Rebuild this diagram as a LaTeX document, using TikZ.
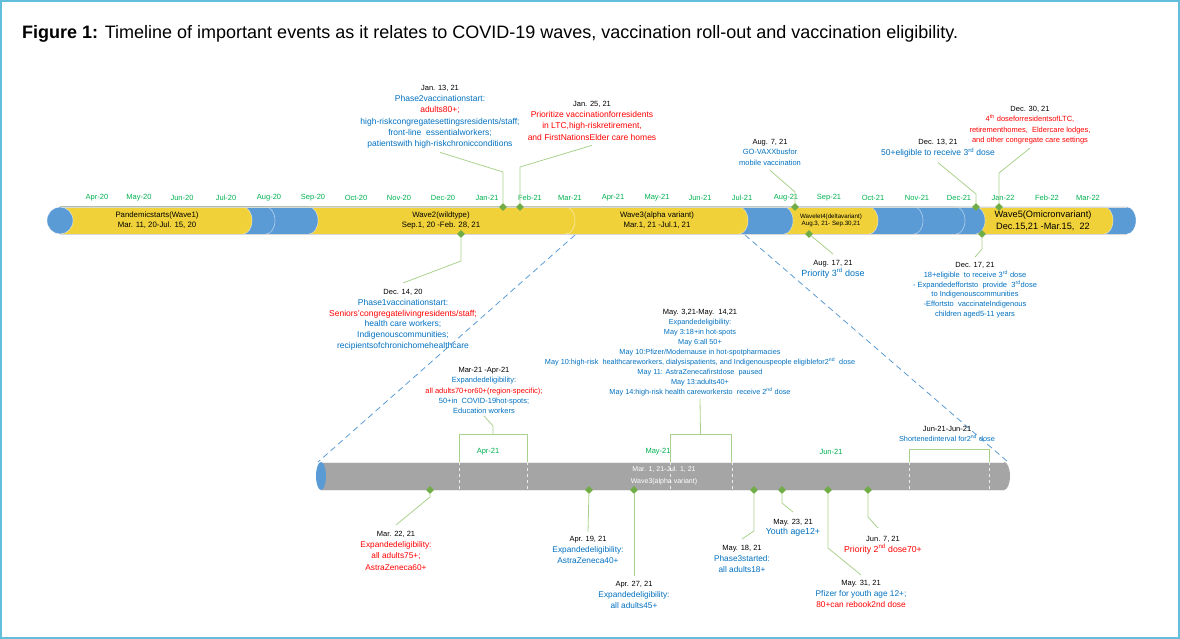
\documentclass[tikz,border=0pt]{standalone}
\usepackage{fontspec}
\setmainfont{Liberation Sans}
\usetikzlibrary{shapes.geometric, calc}
\definecolor{tblue}{RGB}{0,112,192}
\definecolor{tred}{RGB}{255,0,0}
\definecolor{mgreen}{RGB}{0,176,80}
\definecolor{dgreen}{RGB}{112,173,71}
\definecolor{lgreen}{RGB}{169,209,142}
\definecolor{wyel}{RGB}{240,209,58}
\definecolor{bblue}{RGB}{91,155,213}
\definecolor{gbar}{RGB}{165,165,165}
\definecolor{framec}{RGB}{98,190,218}

\newcommand{\dt}[1]{{\fontsize{7.5}{10}\selectfont\textcolor{black}{#1}}}
\newcommand{\rd}[1]{\textcolor{tred}{#1}}

\begin{document}
\begin{tikzpicture}[x=1pt, y=1pt,
    evt/.style={align=center, inner sep=0pt, anchor=north, text=tblue,
        font=\fontsize{8.5}{11.2}\selectfont},
    evtsmall/.style={evt, font=\fontsize{7.5}{10.3}\selectfont},
    evttiny/.style={evt, font=\fontsize{7.3}{10}\selectfont},
    month/.style={font=\fontsize{7.5}{9}\selectfont, text=mgreen, inner sep=0pt},
    wave/.style={align=center, inner sep=0pt, font=\fontsize{7.8}{10}\selectfont},
    dia/.style={diamond, fill=dgreen, inner sep=0pt, minimum size=8pt},
    conn/.style={draw=lgreen, line width=0.8pt},
    zline/.style={draw=bblue, dash pattern=on 6pt off 4pt, line width=0.8pt},
    segedge/.style={draw=white, opacity=0.55, line width=0.6pt}
]
\useasboundingbox (0,0) rectangle (1180,-639);
\draw[framec, line width=1.2pt] (1,-1) rectangle (1179,-638);

% Title
\node[anchor=west, inner sep=0pt, font=\fontsize{18}{21}\selectfont] (title) at (22,-34)
    {\textbf{Figure 1:} Timeline of important events as it relates to COVID-19 waves, vaccination roll-out and vaccination eligibility.};

% Top timeline (segments drawn right to left)
\foreach \t/\c in {1136/bblue, 1113/wyel, 985/bblue, 965/bblue, 923/bblue, 878/wyel,
                   793/bblue, 748/wyel, 575/wyel, 318/bblue, 275/bblue, 252/wyel} {
    \fill[\c] (60,-207) -- (\t-9,-207) arc[start angle=90, end angle=-90, x radius=9, y radius=13.5]
        -- (60,-234) -- cycle;
    \draw[segedge] (\t-9,-207) arc[start angle=90, end angle=-90, x radius=9, y radius=13.5];
}
\draw[gray!30, line width=0.5pt] (60,-207) -- (1127,-207) (60,-234) -- (1127,-234);
\fill[bblue] (60,-220.5) ellipse[x radius=13, y radius=13.5];
\draw[white, opacity=0.6, line width=0.6pt] (60,-220.5) ellipse[x radius=13, y radius=13.5];

% Month labels
\foreach \x/\m [count=\i] in {97/Apr-20, 139/May-20, 182/Jun-20, 226/Jul-20, 269/Aug-20,
        313/Sep-20, 356/Oct-20, 399/Nov-20, 443/Dec-20, 487/Jan-21, 530/Feb-21, 570/Mar-21,
        613/Apr-21, 657/May-21, 700/Jun-21, 742/Jul-21, 786/Aug-21, 829/Sep-21, 873/Oct-21,
        917/Nov-21, 959/Dec-21, 1003/Jan-22, 1047/Feb-22, 1088/Mar-22}
    \node[month] (mon\i) at (\x,-198) {\m};

% Wave labels
\node[wave] (w1) at (157,-220.5) {Pandemicstarts(Wave1)\\Mar. 11, 20-Jul. 15, 20};
\node[wave] (w2) at (441,-220.5) {Wave2(wildtype)\\Sep.1, 20 -Feb. 28, 21};
\node[wave] (w3) at (657,-220.5) {Wave3(alpha variant)\\Mar.1, 21 -Jul.1, 21};
\node[wave, font=\fontsize{6.2}{7.5}\selectfont] (w4) at (831,-220.5) {Wavelet4(deltavariant)\\Aug.3, 21- Sep.30,21};
\node[wave, font=\fontsize{9.2}{12}\selectfont] (w5) at (1043,-220.5) {Wave5(Omicronvariant)\\Dec.15,21 -Mar.15,\ \ 22};

% Lower timeline (Wave 3 zoom)
\fill[gbar] (321,-462) -- (1004,-462) arc[start angle=90, end angle=-90, x radius=6, y radius=14]
    -- (321,-490) -- cycle;
\draw[white!85!gray, line width=0.5pt] (321,-462) -- (1004,-462) (321,-490) -- (1004,-490);
\fill[bblue] (321,-476) ellipse[x radius=5, y radius=14];
\foreach \x in {459, 527, 670, 732, 909, 989}
    \draw[white!85!gray, dashed, line width=0.5pt] (\x,-462) -- (\x,-490);
\node[wave, text=white, font=\fontsize{7}{12}\selectfont] (w3z) at (664,-476) {Mar. 1, 21-Jul. 1, 21\\Wave3(alpha variant)};
\foreach \x/\m [count=\i] in {488/Apr-21, 658/May-21, 831/Jun-21}
    \node[month] (zmon\i) at (\x,-452) {\m};

% Zoom lines
\coordinate (zs1) at (575,-235);
\coordinate (ze1) at (318,-462);
\coordinate (zs2) at (745,-235);
\coordinate (ze2) at (1008,-462);
\draw[zline] (zs1) -- (ze1);
\draw[zline] (zs2) -- (ze2);

% Top events
\node[dia] (d13) at (503,-207) {};
\node[dia] (d25) at (520,-207) {};
\node[dia] (d7a) at (795,-207) {};
\node[dia] (d13d) at (976,-207) {};
\node[dia] (d30d) at (999,-207) {};
\node[dia] (d14d) at (461,-234) {};
\node[dia] (d17a) at (809,-234) {};
\node[dia] (d17d) at (982,-234) {};

\node[evt] (l13) at (440,-85) {\dt{Jan. 13, 21}\\Phase2vaccinationstart:\\\rd{adults80+;}\\
    high-riskcongregatesettingsresidents/staff;\\front-line\ \ essentialworkers;\\patientswith high-riskchronicconditions};
\node[evt, text=tred] (l25) at (592,-101) {\dt{Jan. 25, 21}\\Prioritize vaccinationforresidents\\
    in LTC,high-riskretirement,\\and FirstNationsElder care homes};
\node[evtsmall] (l7a) at (770,-139) {\dt{Aug. 7, 21}\\GO-VAXXbusfor\\mobile vaccination};
\node[evt] (l13d) at (938,-139) {\dt{Dec. 13, 21}\\50+eligible to receive 3\textsuperscript{rd} dose};
\node[evtsmall, text=tred] (l30d) at (1030,-106) {\dt{Dec. 30, 21}\\4\textsuperscript{th} doseforresidentsofLTC,\\
    retirementhomes,\ \ Eldercare lodges,\\and other congregate care settings};
\node[evt, font=\fontsize{8.5}{10.8}\selectfont] (l14d) at (403,-289) {\dt{Dec. 14, 20}\\Phase1vaccinationstart:\\
    \rd{Seniors'congregatelivingresidents/staff;}\\health care workers;\\Indigenouscommunities;\\recipientsofchronichomehealthcare};
\node[evt, font=\fontsize{9}{11}\selectfont] (l17a) at (833,-260) {\dt{Aug. 17, 21}\\Priority 3\textsuperscript{rd} dose};
\node[evtsmall, font=\fontsize{7.5}{9.8}\selectfont] (l17d) at (975,-262) {\dt{Dec. 17, 21}\\18+eligible\ \ to receive 3\textsuperscript{rd} dose\\
    - Expandedeffortsto\ \ provide\ \ 3\textsuperscript{rd}dose\\to Indigenouscommunities\\-Effortsto\ \ vaccinateIndigenous\\children aged5-11 years};

\draw[conn] ([yshift=-4pt]l13.south) -- ([yshift=35pt]d13.center) -- (d13);
\draw[conn] ([yshift=-5pt]l25.south) -- ([yshift=40pt]d25.center) -- (d25);
\draw[conn] ([yshift=-5pt]l7a.south) -- ([yshift=15pt]d7a.center) -- (d7a);
\draw[conn] ([yshift=-5pt]l13d.south) -- ([yshift=13pt]d13d.center) -- (d13d);
\draw[conn] ([yshift=-4pt]l30d.south) -- ([yshift=34pt]d30d.center) -- (d30d);
\draw[conn] (d14d) -- ([yshift=-27pt]d14d.center) -- ([yshift=6pt]l14d.north);
\draw[conn] (d17a) -- ([yshift=6pt]l17a.north);
\draw[conn] (d17d) -- ([yshift=-15pt]d17d.center) -- ([yshift=5pt]l17d.north);

% Range events and brackets
\node[evtsmall] (lmar) at (484,-367) {\dt{Mar-21 -Apr-21}\\Expandedeligibility:\\
    \rd{all adults70+or60+(region-specific);}\\50+in\ \ COVID-19hot-spots;\\Education workers};
\node[evttiny] (lmay) at (700,-309) {\dt{May. 3,21-May.\ \ 14,21}\\Expandedeligibility:\\May 3:18+in hot-spots\\May 6:all 50+\\
    May 10:Pfizer/Modernause in hot-spotpharmacies\\
    May 10:high-risk\ \ healthcareworkers, dialysispatients, and Indigenouspeople eligiblefor2\textsuperscript{nd}\ \ dose\\
    May 11: AstraZenecafirstdose\ \ paused\\May 13:adults40+\\May 14:high-risk health careworkersto\ \ receive 2\textsuperscript{nd} dose};
\node[evttiny, font=\fontsize{7.3}{10.5}\selectfont] (ljun) at (947,-426) {\dt{Jun-21-Jun-21}\\Shortenedinterval for2\textsuperscript{nd}\ dose};

\coordinate (bA1) at (459,-462);
\coordinate (bA2) at (527,-462);
\coordinate (bM1) at (670,-462);
\coordinate (bM2) at (731,-462);
\coordinate (bJ1) at (909,-462);
\coordinate (bJ2) at (989,-462);
\draw[conn] (bA1) -- ++(0,28) -| (bA2);
\draw[conn] (bM1) -- ++(0,28) -| (bM2);
\draw[conn] (bJ1) -- ++(0,13) -| (bJ2);
\draw[conn] ([yshift=-2pt]lmar.south) -- ($(bA1)!0.5!(bA2)+(0,36)$) -- ($(bA1)!0.5!(bA2)+(0,28)$);
\draw[conn] ([yshift=-3pt]lmay.south) -- ($(bM1)!0.5!(bM2)+(0,28)$);

% Lower events
\node[dia] (dm22) at (430,-490) {};
\node[dia] (da19) at (589,-490) {};
\node[dia] (da27) at (634,-490) {};
\node[dia] (dm18) at (754,-490) {};
\node[dia] (dm23) at (782,-490) {};
\node[dia] (dm31) at (828,-490) {};
\node[dia] (dj7) at (868,-490) {};

\node[evt, text=tred, font=\fontsize{8.3}{11.2}\selectfont] (lm22) at (396,-531) {\dt{Mar. 22, 21}\\Expandedeligibility:\\all adults75+;\\AstraZeneca60+};
\node[evt, font=\fontsize{8.3}{11.2}\selectfont] (la19) at (588,-536) {\dt{Apr. 19, 21}\\Expandedeligibility:\\AstraZeneca40+};
\node[evt, font=\fontsize{8.3}{11.2}\selectfont] (la27) at (634,-581) {\dt{Apr. 27, 21}\\Expandedeligibility:\\all adults45+};
\node[evt, font=\fontsize{8.3}{11.2}\selectfont] (lm18) at (742,-545) {\dt{May. 18, 21}\\Phase3started:\\all adults18+};
\node[evt, font=\fontsize{8.8}{10.5}\selectfont] (lm23) at (793,-519) {\dt{May. 23, 21}\\Youth age12+};
\node[evt, font=\fontsize{8.3}{11.2}\selectfont] (lm31) at (861,-580) {\dt{May. 31, 21}\\Pfizer for youth age 12+;\\\rd{80+can rebook2nd dose}};
\node[evt, text=tred, font=\fontsize{8.7}{11}\selectfont] (lj7) at (883,-536) {\dt{Jun. 7, 21}\\Priority 2\textsuperscript{nd} dose70+};

\draw[conn] (dm22) -- ([yshift=-7pt]dm22.center) -- ([yshift=6pt]lm22.north);
\draw[conn] (da19) -- ([yshift=4pt]la19.north);
\draw[conn] (da27) -- ([yshift=5pt]la27.north);
\draw[conn] (dm18) -- ([yshift=-41pt]dm18.center) -- ([yshift=6pt]lm18.north);
\draw[conn] (dm23) -- ([yshift=-13pt]dm23.center) -- ([yshift=7pt]lm23.north);
\draw[conn] (dm31) -- ([yshift=-58pt]dm31.center) -- ([yshift=5pt]lm31.north);
\draw[conn] (dj7) -- ([yshift=-27pt]dj7.center) -- ([xshift=-5pt,yshift=8pt]lj7.north);
\end{tikzpicture}
\end{document}
